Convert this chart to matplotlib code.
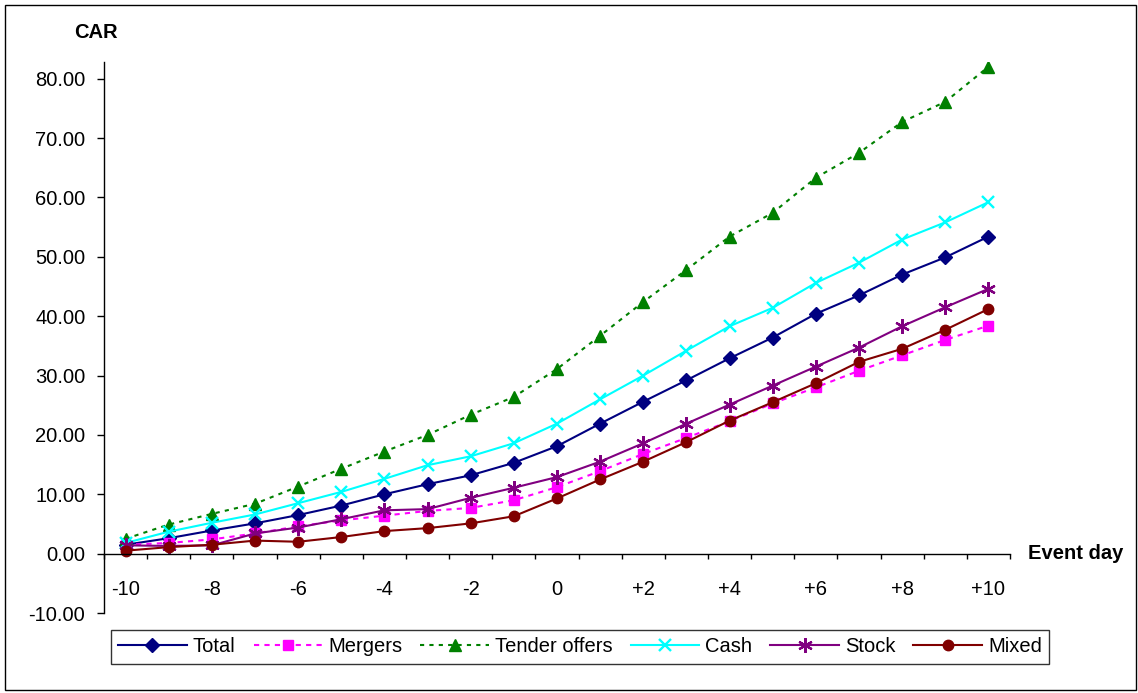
import matplotlib
matplotlib.use("Agg")
import matplotlib.pyplot as plt
from matplotlib.patches import Rectangle
from matplotlib.ticker import FixedLocator, FormatStrFormatter

plt.rcParams['font.family'] = ['Liberation Sans', 'DejaVu Sans']

# cumulative abnormal returns by event day
days = list(range(-10, 11))
day_ticks = [-10, -8, -6, -4, -2, 0, 2, 4, 6, 8, 10]
day_labels = ['-10', '-8', '-6', '-4', '-2', '0', '+2', '+4', '+6', '+8', '+10']

total = [1.5, 2.6, 3.9, 5.1, 6.5, 8.1, 10.0, 11.7, 13.2, 15.3, 18.1,
         21.9, 25.6, 29.2, 32.9, 36.4, 40.4, 43.5, 47.0, 49.9, 53.4]
mergers = [1.5, 1.8, 2.4, 3.4, 4.6, 5.6, 6.4, 7.2, 7.7, 9.0, 11.2,
           13.9, 16.8, 19.5, 22.3, 25.3, 28.0, 30.8, 33.4, 36.0, 38.4]
tender = [2.5, 4.9, 6.7, 8.4, 11.3, 14.3, 17.2, 20.0, 23.4, 26.4, 31.1,
          36.7, 42.4, 47.8, 53.4, 57.4, 63.3, 67.5, 72.7, 76.1, 82.0]
cash = [1.8, 3.7, 5.2, 6.6, 8.5, 10.4, 12.6, 14.9, 16.4, 18.6, 21.9,
        26.0, 30.0, 34.2, 38.3, 41.4, 45.6, 49.0, 52.9, 55.8, 59.2]
stock = [1.4, 1.3, 1.4, 3.4, 4.4, 5.8, 7.3, 7.5, 9.4, 11.1, 12.9,
         15.5, 18.6, 21.9, 25.1, 28.3, 31.5, 34.7, 38.3, 41.5, 44.6]
mixed = [0.5, 1.1, 1.5, 2.2, 2.0, 2.8, 3.8, 4.3, 5.1, 6.3, 9.3,
         12.5, 15.5, 18.8, 22.4, 25.5, 28.7, 32.3, 34.5, 37.7, 41.2]

fig = plt.figure(figsize=(11.38, 6.93), dpi=100)
ax = fig.add_axes([0.0914, 0.1154, 0.7961, 0.7951])

lw = 1.5
ax.plot(days, total, color='#000080', lw=lw, marker='D', ms=7.5, label='Total')
ax.plot(days, mergers, color='#FF00FF', lw=lw, ls=(0, (2.5, 2.5)),
        marker='s', ms=7, label='Mergers')
ax.plot(days, tender, color='#008000', lw=lw, ls=(0, (2, 2.5)),
        marker='^', ms=9, label='Tender offers')
ax.plot(days, cash, color='#00FFFF', lw=lw, marker='x', ms=8.5, mew=1.7,
        label='Cash')
ax.plot(days, stock, color='#800080', lw=lw, marker=(6, 2, 0), ms=10.5, mew=1.6,
        label='Stock')
ax.plot(days, mixed, color='#800000', lw=lw, marker='o', ms=7.5, label='Mixed')

ax.set_xlim(-10.5, 10.5)
ax.set_ylim(-10, 82.8)

for side in ('top', 'right'):
    ax.spines[side].set_visible(False)
ax.spines['bottom'].set_position(('data', 0))
ax.spines['bottom'].set_linewidth(1.0)
ax.spines['left'].set_linewidth(1.0)

ax.set_yticks(range(-10, 81, 10))
ax.yaxis.set_major_formatter(FormatStrFormatter('%.2f'))
ax.tick_params(axis='y', direction='out', length=5, width=1, pad=8.5,
               labelsize=14.5)

ax.set_xticks(day_ticks)
ax.set_xticklabels(day_labels)
ax.xaxis.set_minor_locator(FixedLocator([d + 0.5 for d in range(-11, 11)]))
ax.tick_params(axis='x', which='major', length=0, pad=19, labelsize=14.5)
ax.tick_params(axis='x', which='minor', direction='out', length=3.6, width=1)

fig.text(0.0839, 0.9538, 'CAR', fontsize=14.5, fontweight='bold',
         ha='center', va='center')
fig.text(0.9455, 0.2006, 'Event day', fontsize=14.5, fontweight='bold',
         ha='center', va='center')

leg = fig.legend(loc='center', bbox_to_anchor=(0.5097, 0.0664), ncol=6,
                 fontsize=14.5, frameon=True, fancybox=False,
                 edgecolor='black', handlelength=3.4, handletextpad=0.3,
                 columnspacing=0.9, borderpad=0.35, borderaxespad=0)
leg.get_frame().set_linewidth(1.0)

fig.patches.append(Rectangle((5 / 1138, 3 / 693), 1131 / 1138, 685 / 693,
                             transform=fig.transFigure, fill=False,
                             edgecolor='black', lw=1.0))

fig.savefig('out.png', dpi=100)
